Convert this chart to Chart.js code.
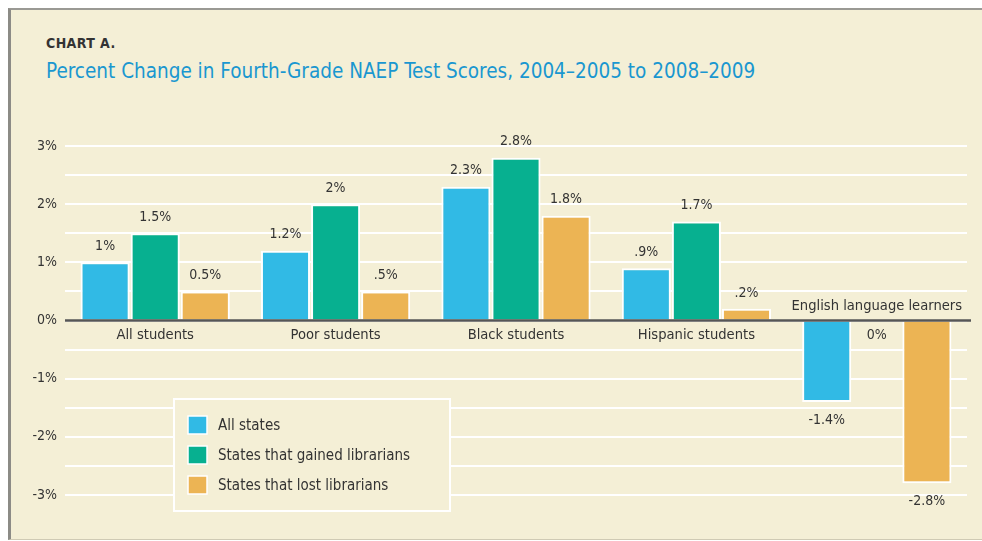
<!DOCTYPE html>
<html>
<head>
<meta charset="utf-8">
<script src="https://cdn.jsdelivr.net/npm/chart.js@4"></script>
<style>
  html, body { margin: 0; padding: 0; background: #fff; }
  #frame { position: absolute; left: 8px; top: 8px; width: 990px; height: 529px;
           background: #f4efd6; border-left: 3px solid #8c8b86; border-top: 2px solid #9a9994;
           border-bottom: 1px solid #cfcab4; }
  #kicker { position: absolute; left: 46px; top: 35px; font: bold 14px "DejaVu Sans Condensed", sans-serif;
            color: #333; letter-spacing: 0.4px; }
  #title { position: absolute; left: 46px; top: 59px; font: 20.5px "DejaVu Sans Condensed", sans-serif;
           color: #1a97d0; }
  #wrap { position: absolute; left: 0; top: 0; width: 982px; height: 541px; }
</style>
</head>
<body>
<div id="frame"></div>
<div id="kicker">CHART A.</div>
<div id="title">Percent Change in Fourth-Grade NAEP Test Scores, 2004–2005 to 2008–2009</div>
<div id="wrap"><canvas id="c" width="982" height="541"></canvas></div>
<script>
// 類別與數值
const categories = ['All students', 'Poor students', 'Black students', 'Hispanic students', 'English language learners'];
const seriesNames = ['All states', 'States that gained librarians', 'States that lost librarians'];
const allStates   = [1.0, 1.2, 2.3, 0.9, -1.4];
const gainedLib   = [1.5, 2.0, 2.8, 1.7, 0];
const lostLib     = [0.5, 0.5, 1.8, 0.2, -2.8];
// 柱上標籤文字照原圖寫法（.5% / .9% 等）
const allStatesLbl = ['1%', '1.2%', '2.3%', '.9%', '-1.4%'];
const gainedLbl    = ['1.5%', '2%', '2.8%', '1.7%', '0%'];
const lostLbl      = ['0.5%', '.5%', '1.8%', '.2%', '-2.8%'];
const yTicks = [-3, -2, -1, 0, 1, 2, 3];

const COLORS = ['#31bae5', '#07b090', '#ecb454'];
const FONT = '"DejaVu Sans Condensed", sans-serif';
const TXT = '#333';

// 類別名稱、柱標籤、零線、圖例：都靠 scale 座標畫
const annot = {
  id: 'annot',
  afterDatasetsDraw(chart) {
    const { ctx, scales: { x, y } } = chart;
    const y0 = y.getPixelForValue(0);
    ctx.save();
    // zero line
    ctx.strokeStyle = '#565656'; ctx.lineWidth = 2.5;
    ctx.beginPath(); ctx.moveTo(chart.chartArea.left, y0); ctx.lineTo(chart.chartArea.right + 4, y0); ctx.stroke();

    ctx.fillStyle = TXT; ctx.textAlign = 'center'; ctx.textBaseline = 'middle';
    ctx.font = '14.6px ' + FONT;
    categories.forEach((c, i) => {
      const neg = allStates[i] < 0 || lostLib[i] < 0;
      ctx.fillText(c, x.getPixelForValue(i), neg ? y0 - 14 : y0 + 15);
    });

    ctx.font = '14px ' + FONT;
    const lbls = [allStatesLbl, gainedLbl, lostLbl];
    chart.data.datasets.forEach((ds, di) => {
      chart.getDatasetMeta(di).data.forEach((bar, i) => {
        const v = ds.data[i];
        let ty = v > 0 ? bar.y - 16 : v < 0 ? bar.y + 18 : y0 + 15;
        ctx.fillText(lbls[di][i], bar.x, ty);
      });
    });

    // legend box
    const lx = 174, ly = 399, lw = 276, lh = 112;
    ctx.strokeStyle = '#ffffff'; ctx.lineWidth = 2;
    ctx.fillStyle = '#f4efd6';
    ctx.fillRect(lx, ly, lw, lh); ctx.strokeRect(lx, ly, lw, lh);
    ctx.textAlign = 'left';
    ctx.font = '15px ' + FONT;
    seriesNames.forEach((n, i) => {
      const sy = 416 + i * 30;
      ctx.fillStyle = COLORS[i]; ctx.fillRect(188, sy, 19, 18);
      ctx.strokeStyle = '#fff'; ctx.lineWidth = 1.5; ctx.strokeRect(188, sy, 19, 18);
      ctx.fillStyle = TXT; ctx.fillText(n, 218, sy + 10);
    });
    ctx.restore();
  }
};

new Chart(document.getElementById('c'), {
  type: 'bar',
  data: {
    labels: categories,
    datasets: [allStates, gainedLib, lostLib].map((d, i) => ({
      label: seriesNames[i], data: d, backgroundColor: COLORS[i],
      borderColor: '#ffffff', borderWidth: 2,
      categoryPercentage: 0.833, barPercentage: 0.98
    }))
  },
  options: {
    responsive: false, animation: false,
    layout: { padding: { top: 146, bottom: 46, right: 15, left: 0 } },
    plugins: { legend: { display: false }, tooltip: { enabled: false } },
    scales: {
      x: { display: false },
      y: {
        min: -3, max: 3,
        afterFit: s => { s.width = 65; },
        afterBuildTicks: s => { s.ticks = []; for (let v = -3; v <= 3; v += 0.5) s.ticks.push({ value: v }); },
        ticks: { padding: 8, color: TXT, font: { family: FONT, size: 14 },
                 callback: v => yTicks.includes(v) ? v + '%' : '' },
        grid: { color: '#ffffff', lineWidth: 2, drawTicks: false },
        border: { display: false }
      }
    }
  },
  plugins: [annot]
});
</script>
</body>
</html>
